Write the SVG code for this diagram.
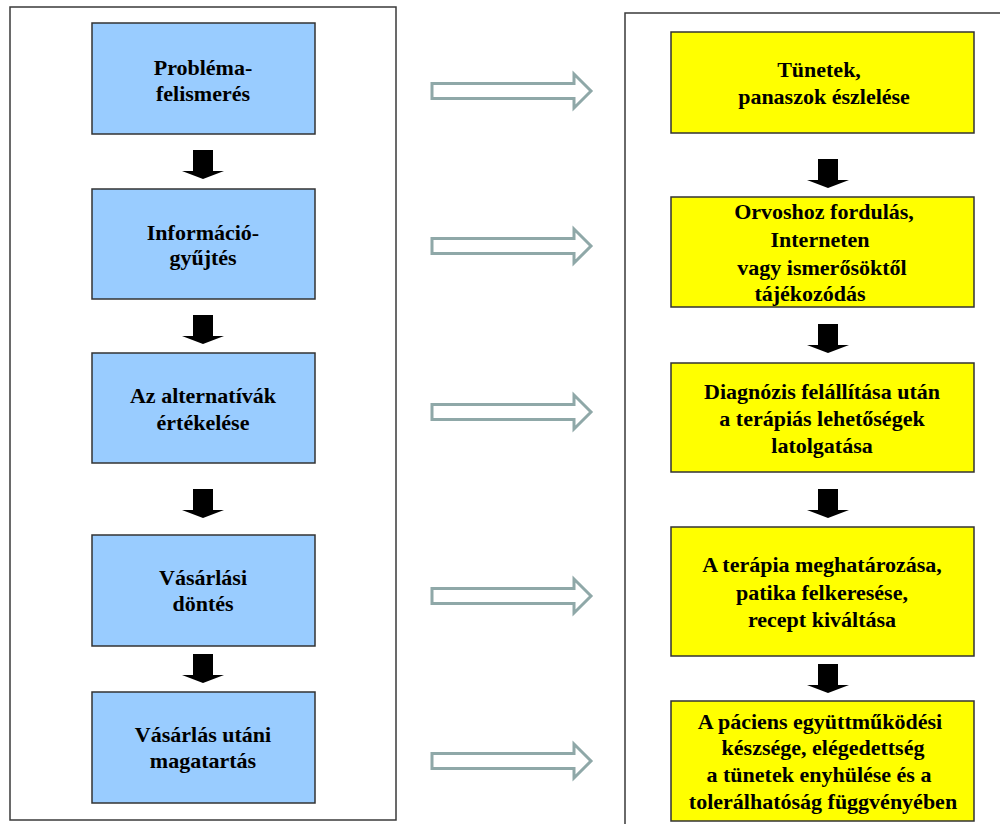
<svg xmlns="http://www.w3.org/2000/svg" width="1000" height="824" viewBox="0 0 1000 824">
<style>
.panel{fill:#fff;stroke:#3a3a3a;stroke-width:1.5}
.lb{fill:#99CCFF;stroke:#333;stroke-width:1.5}
.rb{fill:#FFFF00;stroke:#333;stroke-width:1.5}
.t{font-family:'Times New Roman',Times,'Liberation Serif','DejaVu Serif','Noto Serif',FreeSerif,serif;font-weight:700;font-size:22px;fill:#000;text-anchor:middle}
.ha{fill:#fff;stroke:#8FA8A8;stroke-width:3}
.ba{fill:#000}
</style>
<defs>
<path id="hollow" class="ha" d="M432,-7.5 H574 V-17 L591,0 L574,17 V7.5 H432 Z"/>
<path id="blk" class="ba" d="M-10,-29 H10 V-8 H21 L0,0 L-21,-8 H-10 Z"/>
</defs>
<rect id="leftPanel" class="panel" x="10" y="7" width="386" height="813"/>
<rect id="rightPanel" class="panel" x="625" y="13" width="420" height="900"/>
<g id="connectors">
<use href="#hollow" transform="translate(0,91)"/>
<use href="#hollow" transform="translate(0,246)"/>
<use href="#hollow" transform="translate(0,412)"/>
<use href="#hollow" transform="translate(0,596)"/>
<use href="#hollow" transform="translate(0,761)"/>
<use href="#blk" transform="translate(203,179)"/>
<use href="#blk" transform="translate(203,344)"/>
<use href="#blk" transform="translate(203,518)"/>
<use href="#blk" transform="translate(203,683)"/>
<use href="#blk" transform="translate(828,188)"/>
<use href="#blk" transform="translate(828,353)"/>
<use href="#blk" transform="translate(828,518)"/>
<use href="#blk" transform="translate(828,693)"/>
</g>
<g id="l1"><rect class="lb" x="92" y="23" width="223" height="111"/>
<text class="t" x="203" y="75">Probléma-</text><text class="t" x="203" y="101">felismerés</text></g>
<g id="l2"><rect class="lb" x="92" y="189" width="223" height="110"/>
<text class="t" x="203" y="240">Információ-</text><text class="t" x="203" y="265">gyűjtés</text></g>
<g id="l3"><rect class="lb" x="92" y="353" width="223" height="110"/>
<text class="t" x="203" y="403">Az alternatívák</text><text class="t" x="203" y="430">értékelése</text></g>
<g id="l4"><rect class="lb" x="92" y="535" width="223" height="111"/>
<text class="t" x="203" y="585">Vásárlási</text><text class="t" x="203" y="611">döntés</text></g>
<g id="l5"><rect class="lb" x="92" y="692" width="223" height="111"/>
<text class="t" x="203" y="742">Vásárlás utáni</text><text class="t" x="203" y="768">magatartás</text></g>
<g id="r1"><rect class="rb" x="671" y="32" width="303" height="101"/>
<text class="t" x="819" y="77">Tünetek,</text><text class="t" x="824" y="104">panaszok észlelése</text></g>
<g id="r2"><rect class="rb" x="671" y="197" width="303" height="110"/>
<text class="t" x="824" y="219">Orvoshoz fordulás,</text><text class="t" x="820" y="247">Interneten</text><text class="t" x="822" y="275">vagy ismerősöktől</text><text class="t" x="810" y="301">tájékozódás</text></g>
<g id="r3"><rect class="rb" x="671" y="363" width="303" height="109"/>
<text class="t" x="822" y="399">Diagnózis felállítása után</text><text class="t" x="822" y="426">a terápiás lehetőségek</text><text class="t" x="822" y="453">latolgatása</text></g>
<g id="r4"><rect class="rb" x="671" y="527" width="303" height="129"/>
<text class="t" x="822" y="572">A terápia meghatározása,</text><text class="t" x="822" y="600">patika felkeresése,</text><text class="t" x="822" y="627">recept kiváltása</text></g>
<g id="r5"><rect class="rb" x="671" y="701" width="303" height="120"/>
<text class="t" x="820" y="729">A páciens együttműködési</text><text class="t" x="823" y="755">készsége, elégedettség</text><text class="t" x="819" y="782">a tünetek enyhülése és a</text><text class="t" x="823" y="809">tolerálhatóság függvényében</text></g>
</svg>
